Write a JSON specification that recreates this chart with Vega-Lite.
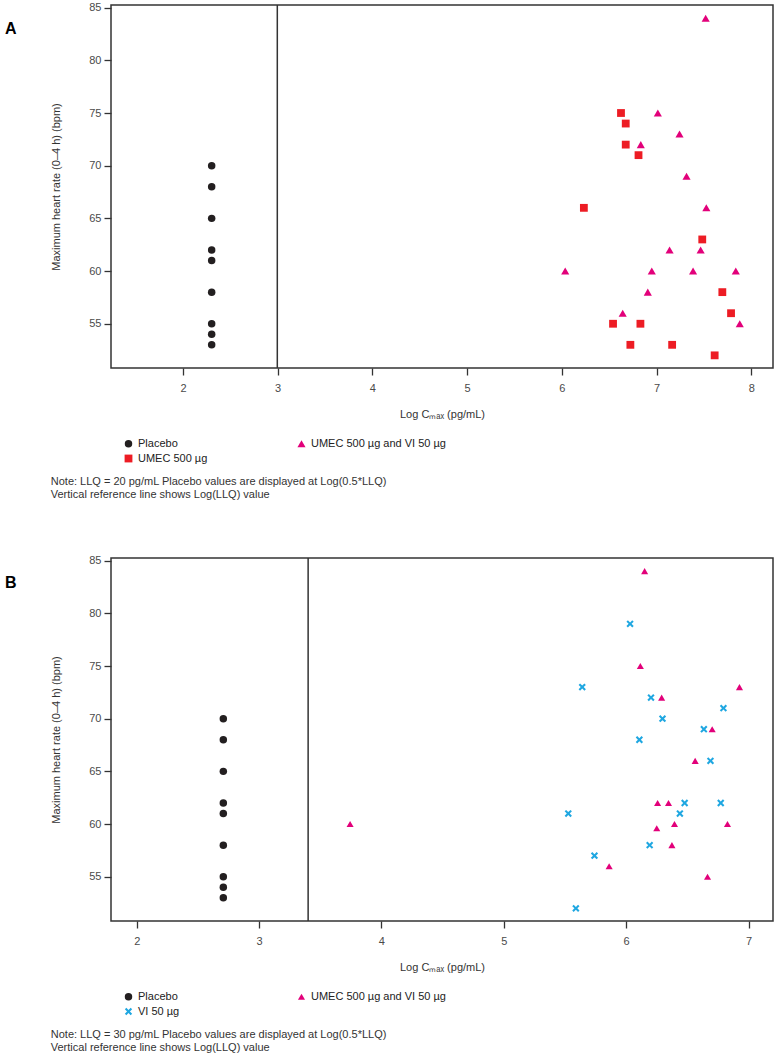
{
  "$schema": "https://vega.github.io/schema/vega-lite/v6.json",
  "padding": {"left": 5, "top": 0, "right": 0, "bottom": 0},
  "autosize": {"type": "pad"},
  "spacing": 52,
  "config": {
    "font": "Liberation Sans",
    "view": {"stroke": "#333", "strokeWidth": 1.5},
    "axis": {"grid": false, "domain": false, "tickColor": "#333", "tickWidth": 1.3, "labelFontSize": 11, "labelColor": "#4a4a4a", "titleFontSize": 11, "titleFontWeight": "normal", "titleColor": "#333"},
    "legend": {"labelFontSize": 11, "labelColor": "#222", "rowPadding": 3, "symbolStrokeWidth": 0}
  },
  "resolve": {"scale": {"color": "independent", "shape": "independent", "size": "independent", "x": "independent", "y": "independent"}, "legend": {"color": "independent", "shape": "independent", "size": "independent"}},
  "datasets": {
    "A": [
      {"group": "Placebo", "logcmax": 2.303, "hr": 70},
      {"group": "Placebo", "logcmax": 2.303, "hr": 68},
      {"group": "Placebo", "logcmax": 2.303, "hr": 65},
      {"group": "Placebo", "logcmax": 2.303, "hr": 62},
      {"group": "Placebo", "logcmax": 2.303, "hr": 61},
      {"group": "Placebo", "logcmax": 2.303, "hr": 58},
      {"group": "Placebo", "logcmax": 2.303, "hr": 55},
      {"group": "Placebo", "logcmax": 2.303, "hr": 54},
      {"group": "Placebo", "logcmax": 2.303, "hr": 53},
      {"group": "UMEC 500 µg", "logcmax": 6.625, "hr": 75},
      {"group": "UMEC 500 µg", "logcmax": 6.675, "hr": 74},
      {"group": "UMEC 500 µg", "logcmax": 6.675, "hr": 72},
      {"group": "UMEC 500 µg", "logcmax": 6.81, "hr": 71},
      {"group": "UMEC 500 µg", "logcmax": 6.233, "hr": 66},
      {"group": "UMEC 500 µg", "logcmax": 7.483, "hr": 63},
      {"group": "UMEC 500 µg", "logcmax": 7.695, "hr": 58},
      {"group": "UMEC 500 µg", "logcmax": 7.787, "hr": 56},
      {"group": "UMEC 500 µg", "logcmax": 6.541, "hr": 55},
      {"group": "UMEC 500 µg", "logcmax": 6.83, "hr": 55},
      {"group": "UMEC 500 µg", "logcmax": 6.724, "hr": 53},
      {"group": "UMEC 500 µg", "logcmax": 7.165, "hr": 53},
      {"group": "UMEC 500 µg", "logcmax": 7.614, "hr": 52},
      {"group": "UMEC 500 µg and VI 50 µg", "logcmax": 7.519, "hr": 84},
      {"group": "UMEC 500 µg and VI 50 µg", "logcmax": 7.014, "hr": 75},
      {"group": "UMEC 500 µg and VI 50 µg", "logcmax": 7.243, "hr": 73},
      {"group": "UMEC 500 µg and VI 50 µg", "logcmax": 6.834, "hr": 72},
      {"group": "UMEC 500 µg and VI 50 µg", "logcmax": 7.317, "hr": 69},
      {"group": "UMEC 500 µg and VI 50 µg", "logcmax": 7.526, "hr": 66},
      {"group": "UMEC 500 µg and VI 50 µg", "logcmax": 7.138, "hr": 62},
      {"group": "UMEC 500 µg and VI 50 µg", "logcmax": 7.466, "hr": 62},
      {"group": "UMEC 500 µg and VI 50 µg", "logcmax": 6.036, "hr": 60},
      {"group": "UMEC 500 µg and VI 50 µg", "logcmax": 6.95, "hr": 60},
      {"group": "UMEC 500 µg and VI 50 µg", "logcmax": 7.386, "hr": 60},
      {"group": "UMEC 500 µg and VI 50 µg", "logcmax": 7.837, "hr": 60},
      {"group": "UMEC 500 µg and VI 50 µg", "logcmax": 6.908, "hr": 58},
      {"group": "UMEC 500 µg and VI 50 µg", "logcmax": 6.643, "hr": 56},
      {"group": "UMEC 500 µg and VI 50 µg", "logcmax": 7.879, "hr": 55}
    ],
    "B": [
      {"group": "Placebo", "logcmax": 2.708, "hr": 70},
      {"group": "Placebo", "logcmax": 2.708, "hr": 68},
      {"group": "Placebo", "logcmax": 2.708, "hr": 65},
      {"group": "Placebo", "logcmax": 2.708, "hr": 62},
      {"group": "Placebo", "logcmax": 2.708, "hr": 61},
      {"group": "Placebo", "logcmax": 2.708, "hr": 58},
      {"group": "Placebo", "logcmax": 2.708, "hr": 55},
      {"group": "Placebo", "logcmax": 2.708, "hr": 54},
      {"group": "Placebo", "logcmax": 2.708, "hr": 53},
      {"group": "UMEC 500 µg and VI 50 µg", "logcmax": 6.151, "hr": 84},
      {"group": "UMEC 500 µg and VI 50 µg", "logcmax": 6.116, "hr": 75},
      {"group": "UMEC 500 µg and VI 50 µg", "logcmax": 6.926, "hr": 73},
      {"group": "UMEC 500 µg and VI 50 µg", "logcmax": 6.29, "hr": 72},
      {"group": "UMEC 500 µg and VI 50 µg", "logcmax": 6.703, "hr": 69},
      {"group": "UMEC 500 µg and VI 50 µg", "logcmax": 6.564, "hr": 66},
      {"group": "UMEC 500 µg and VI 50 µg", "logcmax": 6.257, "hr": 62},
      {"group": "UMEC 500 µg and VI 50 µg", "logcmax": 6.346, "hr": 62},
      {"group": "UMEC 500 µg and VI 50 µg", "logcmax": 6.395, "hr": 60},
      {"group": "UMEC 500 µg and VI 50 µg", "logcmax": 6.828, "hr": 60},
      {"group": "UMEC 500 µg and VI 50 µg", "logcmax": 6.25, "hr": 59.6},
      {"group": "UMEC 500 µg and VI 50 µg", "logcmax": 6.374, "hr": 58},
      {"group": "UMEC 500 µg and VI 50 µg", "logcmax": 5.861, "hr": 56},
      {"group": "UMEC 500 µg and VI 50 µg", "logcmax": 6.665, "hr": 55},
      {"group": "UMEC 500 µg and VI 50 µg", "logcmax": 3.744, "hr": 60},
      {"group": "VI 50 µg", "logcmax": 6.032, "hr": 79},
      {"group": "VI 50 µg", "logcmax": 5.641, "hr": 73},
      {"group": "VI 50 µg", "logcmax": 6.203, "hr": 72},
      {"group": "VI 50 µg", "logcmax": 6.795, "hr": 71},
      {"group": "VI 50 µg", "logcmax": 6.297, "hr": 70},
      {"group": "VI 50 µg", "logcmax": 6.635, "hr": 69},
      {"group": "VI 50 µg", "logcmax": 6.108, "hr": 68},
      {"group": "VI 50 µg", "logcmax": 6.689, "hr": 66},
      {"group": "VI 50 µg", "logcmax": 6.478, "hr": 62},
      {"group": "VI 50 µg", "logcmax": 6.773, "hr": 62},
      {"group": "VI 50 µg", "logcmax": 6.439, "hr": 61},
      {"group": "VI 50 µg", "logcmax": 5.527, "hr": 61},
      {"group": "VI 50 µg", "logcmax": 6.192, "hr": 58},
      {"group": "VI 50 µg", "logcmax": 5.741, "hr": 57},
      {"group": "VI 50 µg", "logcmax": 5.589, "hr": 52}
    ]
  },
  "vconcat": [
    {
      "title": {"text": "A", "orient": "top", "anchor": "start", "frame": "bounds", "fontSize": 16, "fontWeight": "bold", "color": "#000", "dx": -45, "dy": 40},
      "resolve": {"scale": {"color": "independent", "shape": "independent", "size": "independent"}, "legend": {"color": "independent", "shape": "independent", "size": "independent"}},
      "vconcat": [
        {
          "width": 662,
          "height": 363,
          "title": {"text": ["Note: LLQ = 20 pg/mL Placebo values are displayed at Log(0.5*LLQ)", "Vertical reference line shows Log(LLQ) value"], "orient": "bottom", "anchor": "start", "frame": "bounds", "fontSize": 11, "fontWeight": "normal", "color": "#333", "offset": 11.5, "lineHeight": 13.6},
          "layer": [
            {
              "data": {"values": [{"llq": 2.996}]},
              "mark": {"type": "rule", "color": "#333", "strokeWidth": 1.5},
              "encoding": {"x": {"field": "llq", "type": "quantitative"}}
            },
            {
              "data": {"name": "A"},
              "mark": {"type": "point", "filled": true, "opacity": 1, "strokeWidth": 0},
              "encoding": {
                "x": {"field": "logcmax", "type": "quantitative", "scale": {"domain": [1.24, 8.23], "nice": false, "zero": false}, "axis": {"values": [2, 3, 4, 5, 6, 7, 8], "format": "d", "tickSize": 7, "labelPadding": 7, "title": "Log Cₘₐₓ (pg/mL)", "titlePadding": 15}},
                "y": {"field": "hr", "type": "quantitative", "scale": {"domain": [50.8, 85.25], "nice": false, "zero": false}, "axis": {"values": [55, 60, 65, 70, 75, 80, 85], "tickSize": 7, "labelPadding": 3, "title": "Maximum heart rate (0–4 h) (bpm)", "titlePadding": 27}},
                "color": {"field": "group", "type": "nominal", "scale": {"domain": ["Placebo", "UMEC 500 µg", "UMEC 500 µg and VI 50 µg"], "range": ["#231f20", "#ed1c24", "#e2007a"]}, "legend": {"title": null, "orient": "none", "legendX": 12, "legendY": 433, "columns": 2, "columnPadding": 88}},
                "shape": {"field": "group", "type": "nominal", "scale": {"domain": ["Placebo", "UMEC 500 µg", "UMEC 500 µg and VI 50 µg"], "range": ["circle", "square", "triangle-up"]}, "legend": {"title": null, "orient": "none", "legendX": 12, "legendY": 433, "columns": 2, "columnPadding": 88}},
                "size": {"field": "group", "type": "nominal", "scale": {"domain": ["Placebo", "UMEC 500 µg", "UMEC 500 µg and VI 50 µg"], "range": [56, 66, 80]}, "legend": {"title": null, "orient": "none", "legendX": 12, "legendY": 433, "columns": 2, "columnPadding": 88}}
              }
            }
          ]
        }
      ]
    },
    {
      "title": {"text": "B", "orient": "top", "anchor": "start", "frame": "bounds", "fontSize": 16, "fontWeight": "bold", "color": "#000", "dx": -45, "dy": 41},
      "resolve": {"scale": {"color": "independent", "shape": "independent", "size": "independent"}, "legend": {"color": "independent", "shape": "independent", "size": "independent"}},
      "vconcat": [
        {
          "width": 662,
          "height": 363,
          "title": {"text": ["Note: LLQ = 30 pg/mL Placebo values are displayed at Log(0.5*LLQ)", "Vertical reference line shows Log(LLQ) value"], "orient": "bottom", "anchor": "start", "frame": "bounds", "fontSize": 11, "fontWeight": "normal", "color": "#333", "offset": 11.5, "lineHeight": 13.6},
          "layer": [
            {
              "data": {"values": [{"llq": 3.401}]},
              "mark": {"type": "rule", "color": "#333", "strokeWidth": 1.5},
              "encoding": {"x": {"field": "llq", "type": "quantitative"}}
            },
            {
              "data": {"name": "B"},
              "mark": {"type": "point", "filled": true, "opacity": 1, "strokeWidth": 0},
              "encoding": {
                "x": {"field": "logcmax", "type": "quantitative", "scale": {"domain": [1.79, 7.2], "nice": false, "zero": false}, "axis": {"values": [2, 3, 4, 5, 6, 7], "format": "d", "tickSize": 7, "labelPadding": 7, "title": "Log Cₘₐₓ (pg/mL)", "titlePadding": 15}},
                "y": {"field": "hr", "type": "quantitative", "scale": {"domain": [50.8, 85.25], "nice": false, "zero": false}, "axis": {"values": [55, 60, 65, 70, 75, 80, 85], "tickSize": 7, "labelPadding": 3, "title": "Maximum heart rate (0–4 h) (bpm)", "titlePadding": 27}},
                "color": {"field": "group", "type": "nominal", "scale": {"domain": ["Placebo", "VI 50 µg", "UMEC 500 µg and VI 50 µg"], "range": ["#231f20", "#1fa7e1", "#e2007a"]}, "legend": {"title": null, "orient": "none", "legendX": 12, "legendY": 433, "columns": 2, "columnPadding": 116}},
                "shape": {"field": "group", "type": "nominal", "scale": {"domain": ["Placebo", "VI 50 µg", "UMEC 500 µg and VI 50 µg"], "range": ["circle", "M-0.6,-1L0,-0.4L0.6,-1L1,-0.6L0.4,0L1,0.6L0.6,1L0,0.4L-0.6,1L-1,0.6L-0.4,0L-1,-0.6Z", "triangle-up"]}, "legend": {"title": null, "orient": "none", "legendX": 12, "legendY": 433, "columns": 2, "columnPadding": 116}},
                "size": {"field": "group", "type": "nominal", "scale": {"domain": ["Placebo", "VI 50 µg", "UMEC 500 µg and VI 50 µg"], "range": [56, 50, 80]}, "legend": {"title": null, "orient": "none", "legendX": 12, "legendY": 433, "columns": 2, "columnPadding": 116}}
              }
            }
          ]
        }
      ]
    }
  ]
}
